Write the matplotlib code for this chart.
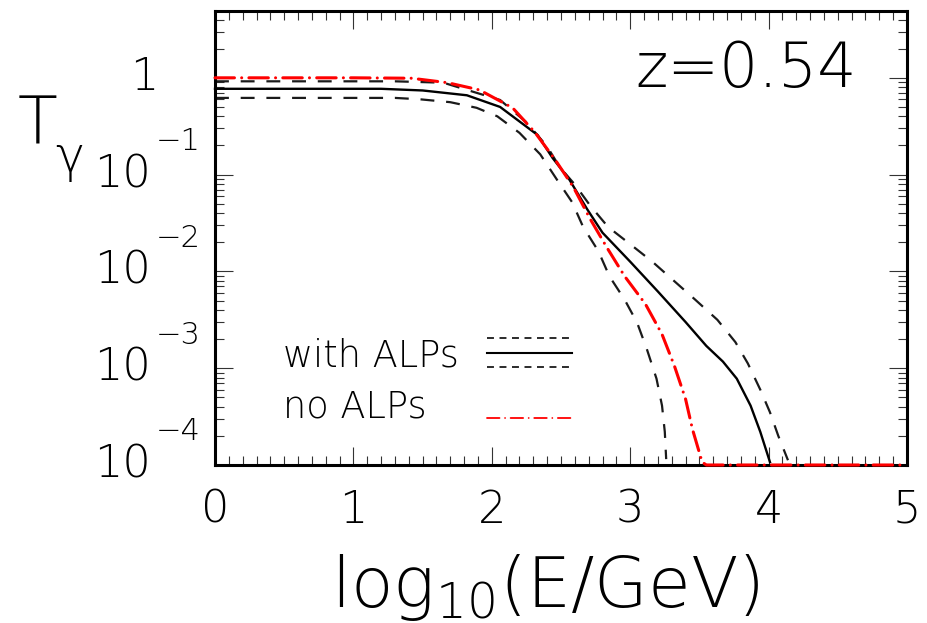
import matplotlib

matplotlib.use("Agg")
import matplotlib.pyplot as plt
from matplotlib import transforms
from matplotlib.ticker import MultipleLocator, LogLocator, NullFormatter

# photon transfer function T_gamma vs log10(E/GeV), z = 0.54
x_no_alps = [0.0, 1.0, 1.42, 1.68, 1.91, 2.15, 2.31, 2.46, 2.59, 2.71, 2.83,
             2.96, 3.11, 3.23, 3.32, 3.40, 3.45, 3.52, 3.55, 5.0]
t_no_alps = [1.0, 1.0, 0.99, 0.89, 0.75, 0.49, 0.275, 0.141, 0.074, 0.035,
             0.0178, 0.0089, 0.0046, 0.00224, 0.00105, 4.8e-4, 2.34e-4,
             1.07e-4, 1e-4, 1e-4]

x_alps_mid = [0.0, 1.2, 1.5, 1.82, 2.06, 2.33, 2.44, 2.56, 2.69, 2.80, 3.0,
              3.2, 3.4, 3.55, 3.67, 3.77, 3.87, 3.94, 4.01]
t_alps_mid = [0.77, 0.77, 0.74, 0.66, 0.50, 0.257, 0.148, 0.089, 0.0437,
              0.0251, 0.0126, 0.0062, 0.0030, 0.0017, 0.00117, 7.8e-4,
              4.1e-4, 2.2e-4, 1.07e-4]

x_alps_hi = [0.0, 1.3, 1.65, 2.06, 2.25, 2.40, 2.49, 2.60, 2.71, 2.84, 3.0,
             3.16, 3.32, 3.47, 3.63, 3.76, 3.85, 3.94, 4.01, 4.07, 4.14]
t_alps_hi = [0.92, 0.92, 0.89, 0.59, 0.347, 0.195, 0.120, 0.079, 0.048,
             0.0288, 0.0191, 0.0126, 0.0079, 0.0051, 0.00316, 0.00186,
             0.00112, 6.0e-4, 3.5e-4, 2.0e-4, 1.12e-4]

x_alps_lo = [0.0, 1.3, 1.48, 1.70, 1.89, 2.04, 2.20, 2.35, 2.47, 2.58, 2.66,
             2.77, 2.85, 2.96, 3.05, 3.12, 3.19, 3.23, 3.25, 3.26]
t_alps_lo = [0.62, 0.62, 0.60, 0.56, 0.49, 0.40, 0.27, 0.162, 0.089, 0.052,
             0.0288, 0.0162, 0.0089, 0.0051, 0.00295, 0.00158, 7.8e-4,
             4.1e-4, 2.2e-4, 1.15e-4]

x_ticks = [0, 1, 2, 3, 4, 5]
y_decades = [-1, -2, -3, -4]

W, H = 928, 623
plt.rcParams["font.family"] = ["DejaVu Sans"]
plt.rcParams["font.weight"] = 200
plt.rcParams["lines.scale_dashes"] = False
plt.rcParams["mathtext.fontset"] = "dejavusans"

red = "#ff0000"
dark = "#1a1a1a"
dashdot = (0, (14, 5.2, 0.01, 5.2))
dashed = (0, (10, 8.5))

fig = plt.figure(figsize=(W / 100, H / 100), dpi=100)
ax = fig.add_axes([215 / W, (H - 465) / H, (907 - 215) / W, (465 - 11) / H])

ax.plot(x_alps_hi, t_alps_hi, color=dark, lw=1.6, linestyle=dashed, clip_on=False)
ax.plot(x_alps_lo, t_alps_lo, color=dark, lw=1.6, linestyle=dashed, clip_on=False)
ax.plot(x_alps_mid, t_alps_mid, color="black", lw=1.7, clip_on=False)
ax.plot(x_no_alps, t_no_alps, color=red, lw=2.2, linestyle=dashdot,
        dash_capstyle="round", clip_on=False, zorder=3)

ax.set_xlim(0, 5)
ax.set_yscale("log")
ax.set_ylim(1e-4, 4.9)

ax.xaxis.set_minor_locator(MultipleLocator(0.1))
ax.set_xticks(x_ticks)
ax.yaxis.set_major_locator(LogLocator(base=10, numticks=10))
ax.yaxis.set_minor_locator(LogLocator(base=10, subs=range(2, 10), numticks=20))
ax.yaxis.set_major_formatter(NullFormatter())
ax.yaxis.set_minor_formatter(NullFormatter())
ax.tick_params(which="both", direction="in", top=True, right=True,
               width=0.8, color="#333333")
ax.tick_params(which="major", length=13)
ax.tick_params(which="minor", length=6.5)
ax.tick_params(axis="x", labelsize=32, pad=17)
for spine in ax.spines.values():
    spine.set_linewidth(2.2)

# y tick labels drawn by hand: "1", then 10 with raised exponent
ylab = transforms.blended_transform_factory(ax.transAxes, ax.transData)
ax.text((158 - 215) / 692, 1.0, "1", transform=ylab, ha="right",
        va="center", fontsize=32)
exp_tr = transforms.offset_copy(ylab, fig=fig, x=0, y=33, units="dots")
for k in y_decades:
    ax.text((151 - 215) / 692, 10.0 ** k, "10", transform=ylab, ha="right",
            va="center", fontsize=32)
    ax.text((201 - 215) / 692, 10.0 ** k, "\u2212" + str(-k), transform=exp_tr,
            ha="right", va="center", fontsize=22)

# axis titles
fig.text(18 / W, 1 - 145 / H, "T", fontsize=47, ha="left", va="baseline")
fig.text(55 / W, 1 - 172 / H, "\u03b3", fontsize=35, ha="left", va="baseline")
fig.text(545 / W, 1 - 607 / H, r"log$_{\mathregular{10}}$(E/GeV)", fontsize=50,
         ha="center", va="baseline")
fig.text(635 / W, 1 - 87 / H, "z=0.54", fontsize=44.5, ha="left", va="baseline")

# legend
fig.text(283 / W, 1 - 367 / H, "with ALPs", fontsize=26.5, ha="left", va="baseline")
fig.text(283 / W, 1 - 417 / H, "no ALPs", fontsize=26.5, ha="left", va="baseline")
lx = [(487 - 215) / 692, (572 - 215) / 692]
ax.plot(lx, [0.280, 0.280], transform=ax.transAxes, color=dark, lw=1.3,
        linestyle=(0, (5, 4)))
ax.plot(lx, [0.247, 0.247], transform=ax.transAxes, color="black", lw=1.5)
ax.plot(lx, [0.216, 0.216], transform=ax.transAxes, color=dark, lw=1.3,
        linestyle=(0, (5, 4)))
ax.plot(lx, [0.1035, 0.1035], transform=ax.transAxes, color=red, lw=1.3,
        linestyle=(0, (9, 4, 0.01, 4)), dash_capstyle="round")

fig.savefig("out.png", dpi=100)
